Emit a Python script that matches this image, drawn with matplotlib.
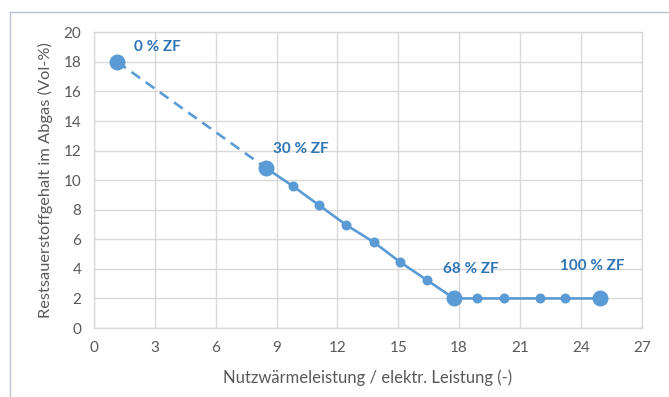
"""
Restsauerstoffgehalt im Abgas vs. Nutzwärmeleistung / elektr. Leistung
"""

import matplotlib.pyplot as plt
from matplotlib.lines import Line2D

plt.rcParams['font.family'] = ['Lato', 'DejaVu Sans']

# Data
dashed_x = [1.15, 8.5]
dashed_y = [18.0, 10.8]

solid_x = [8.5, 9.8, 11.1, 12.4, 13.8, 15.1, 16.4, 17.75, 18.9, 20.2, 22.0, 23.2, 24.95]
solid_y = [10.8, 9.6, 8.3, 7.0, 5.8, 4.45, 3.25, 2.0, 2.0, 2.0, 2.0, 2.0, 2.0]

big_x = [1.15, 8.5, 17.75, 24.95]
big_y = [18.0, 10.8, 2.0, 2.0]
big_labels = ['0 % ZF', '30 % ZF', '68 % ZF', '100 % ZF']
# label offsets (points) relative to the big markers
label_offsets = [(12, 11), (5, 14), (-8, 21), (-29, 23)]

x_ticks = [0, 3, 6, 9, 12, 15, 18, 21, 24, 27]
y_ticks = [0, 2, 4, 6, 8, 10, 12, 14, 16, 18, 20]

BLUE = '#5b9bd5'
LABEL_BLUE = '#2e75b6'
GREY_TEXT = '#595959'
GRID = '#d9d9d9'

fig = plt.figure(figsize=(6.69, 3.97), dpi=100)
ax = fig.add_axes([0.1405, 0.1738, 0.8187, 0.7448])

# outer frame (only top and left edge visible in the reference)
fig.add_artist(Line2D([0.015, 0.015], [0.0, 0.97], color='#b8c4d0', linewidth=1,
                      transform=fig.transFigure))
fig.add_artist(Line2D([0.015, 1.0], [0.97, 0.97], color='#b8c4d0', linewidth=1,
                      transform=fig.transFigure))

# lines
ax.plot(dashed_x, dashed_y, color=BLUE, linewidth=1.9, linestyle=(0, (4, 2.6)), zorder=3)
ax.plot(solid_x, solid_y, color=BLUE, linewidth=1.9, marker='o', markersize=7.2,
        markeredgewidth=0, zorder=3)
ax.plot(big_x, big_y, linestyle='none', marker='o', color=BLUE, markersize=11.5,
        markeredgewidth=0, zorder=4)

for x, y, lab, off in zip(big_x, big_y, big_labels, label_offsets):
    ax.annotate(lab, (x, y), xytext=off, textcoords='offset points',
                ha='left', va='center', fontsize=11, fontweight='bold', color=LABEL_BLUE)

# axes formatting
ax.set_xlim(0, 27)
ax.set_ylim(0, 20)
ax.set_xticks(x_ticks)
ax.set_yticks(y_ticks)
ax.grid(True, color=GRID, linewidth=1)
ax.set_axisbelow(True)
for spine in ax.spines.values():
    spine.set_color(GRID)
    spine.set_linewidth(1)
ax.tick_params(length=0, labelsize=11, labelcolor=GREY_TEXT, pad=9)

ax.set_xlabel('Nutzwärmeleistung / elektr. Leistung (-)', fontsize=12,
              color=GREY_TEXT, labelpad=11)
ax.set_ylabel('Restsauerstoffgehalt im Abgas (Vol-%)', fontsize=11.8,
              color=GREY_TEXT, labelpad=8)

plt.savefig('out.png', dpi=100)
plt.close()
